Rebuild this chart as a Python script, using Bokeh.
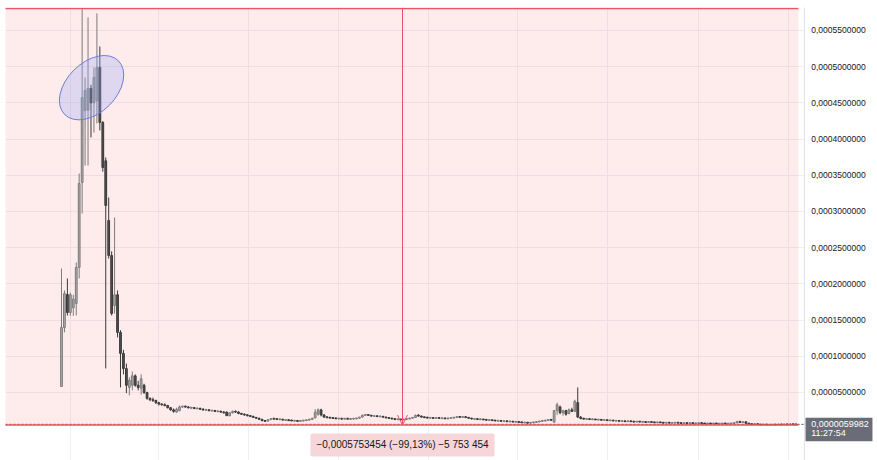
import math
from bokeh.plotting import figure
from bokeh.models import (ColumnDataSource, FixedTicker, Label, Arrow, OpenHead, Grid)
from bokeh.core.properties import value
from bokeh.embed import file_html
from bokeh.resources import INLINE

# ---------------- data (prices in units of 1e-5) ----------------
UNIT = 1e-5

open_e5 = [
    5.83, 13.98, 18.54, 16.05, 16.7, 17.3, 22.27, 34.0, 43.94, 44.0,
    47.0, 45.0, 45.3, 49.9, 42.29, 37.0, 28.76, 23.92, 17.0, 18.5,
    13.3, 10.4, 8.3, 5.7, 6.0, 7.3, 6.0, 5.6, 6.0, 5.0,
    4.2, 4.0, 3.9, 3.6, 3.4, 3.3, 3.2, 2.9, 2.6, 2.3,
    2.5, 3.0, 3.1, 3.0, 2.9, 2.9, 2.8, 2.8, 2.7, 2.6,
    2.6, 2.5, 2.5, 2.4, 2.4, 2.3, 2.3, 1.8, 2.2, 2.4,
    2.3, 2.1, 2.0, 1.9, 1.8, 1.7, 1.55, 1.45, 1.3, 1.1,
    1.05, 1.25, 1.4, 1.35, 1.3, 1.3, 1.2, 1.2, 1.15, 1.1,
    1.1, 1.05, 1.1, 1.15, 1.2, 1.3, 1.5, 2.0, 2.6, 1.9,
    1.6, 1.55, 1.5, 1.45, 1.4, 1.4, 1.35, 1.4, 1.35, 1.35,
    1.4, 1.45, 1.6, 1.85, 1.95, 1.85, 1.75, 1.75, 1.7, 1.7,
    1.6, 1.5, 1.45, 1.35, 1.3, 1.3, 1.25, 1.3, 1.35, 1.45,
    1.55, 1.85, 1.75, 1.6, 1.55, 1.5, 1.5, 1.45, 1.5, 1.45,
    1.45, 1.4, 1.45, 1.5, 1.55, 1.65, 1.6, 1.65, 1.55, 1.45,
    1.35, 1.35, 1.3, 1.3, 1.25, 1.2, 1.2, 1.15, 1.1, 1.1,
    1.05, 1.05, 1.0, 1.0, 0.95, 0.95, 0.9, 0.85, 0.85, 0.8,
    0.85, 0.9, 0.95, 1.05, 1.1, 1.15, 1.25, 0.9, 2.5, 3.0,
    2.2, 2.5, 2.1, 2.6, 2.4, 3.6, 1.6, 1.4, 1.35, 1.35,
    1.3, 1.3, 1.25, 1.25, 1.2, 1.2, 1.15, 1.15, 1.1, 1.1,
    1.05, 1.05, 1.0, 1.05, 1.0, 0.95, 1.0, 0.95, 0.95, 0.9,
    0.95, 0.9, 0.85, 0.9, 0.85, 0.8, 0.85, 0.8, 0.8, 0.85,
    0.8, 0.75, 0.8, 0.75, 0.8, 0.75, 0.75, 0.8, 0.75, 0.7,
    0.75, 0.7, 0.75, 0.7, 0.7, 0.75, 0.7, 0.7, 0.75, 0.8,
    1.0, 0.85, 0.95, 0.75, 0.65, 0.6, 0.65, 0.6, 0.55, 0.6,
    0.55, 0.55, 0.58, 0.56, 0.6, 0.58, 0.61, 0.59, 0.62, 0.6,
]

high_e5 = [
    22.13, 19.1, 20.75, 18.8, 18.5, 22.96, 35.25, 58.05, 48.51, 56.8,
    47.5, 49.89, 57.36, 52.79, 42.5, 37.46, 31.93, 24.5, 29.17, 19.1,
    13.6, 10.9, 9.0, 7.1, 7.9, 7.5, 6.6, 7.5, 6.2, 5.1,
    4.3, 4.3, 4.0, 3.7, 3.5, 3.5, 3.3, 3.0, 2.8, 2.9,
    3.2, 3.2, 3.2, 3.1, 3.0, 3.0, 2.9, 2.9, 2.8, 2.7,
    2.7, 2.6, 2.6, 2.5, 2.5, 2.4, 2.35, 2.25, 2.5, 2.5,
    2.4, 2.2, 2.1, 2.0, 1.9, 1.8, 1.6, 1.5, 1.35, 1.2,
    1.3, 1.45, 1.5, 1.45, 1.4, 1.35, 1.3, 1.3, 1.25, 1.2,
    1.2, 1.15, 1.2, 1.25, 1.35, 1.5, 2.7, 2.8, 2.75, 2.0,
    1.7, 1.6, 1.6, 1.55, 1.5, 1.5, 1.45, 1.5, 1.45, 1.45,
    1.5, 1.65, 1.95, 2.05, 2.0, 1.9, 1.85, 1.8, 1.8, 1.75,
    1.65, 1.6, 1.5, 1.45, 1.4, 1.35, 1.35, 1.4, 1.5, 1.6,
    1.95, 2.0, 1.8, 1.7, 1.65, 1.6, 1.55, 1.55, 1.6, 1.55,
    1.5, 1.5, 1.55, 1.6, 1.7, 1.75, 1.7, 1.7, 1.6, 1.5,
    1.45, 1.4, 1.4, 1.35, 1.35, 1.3, 1.25, 1.2, 1.2, 1.15,
    1.15, 1.1, 1.1, 1.05, 1.05, 1.0, 1.0, 0.95, 0.9, 0.9,
    0.95, 1.0, 1.1, 1.15, 1.2, 1.3, 1.3, 2.6, 3.6, 3.2,
    2.6, 2.6, 2.8, 2.9, 4.0, 5.7, 1.75, 1.5, 1.45, 1.4,
    1.4, 1.35, 1.35, 1.3, 1.3, 1.25, 1.25, 1.2, 1.2, 1.15,
    1.15, 1.1, 1.1, 1.1, 1.05, 1.05, 1.05, 1.0, 1.0, 1.0,
    1.0, 0.95, 0.95, 0.95, 0.9, 0.9, 0.9, 0.85, 0.9, 0.9,
    0.85, 0.85, 0.85, 0.85, 0.85, 0.8, 0.85, 0.85, 0.8, 0.8,
    0.8, 0.8, 0.8, 0.75, 0.8, 0.8, 0.75, 0.8, 0.85, 1.05,
    1.1, 1.0, 1.0, 0.8, 0.7, 0.7, 0.7, 0.65, 0.65, 0.65,
    0.6, 0.6, 0.63, 0.62, 0.64, 0.63, 0.65, 0.64, 0.66, 0.65,
]

low_e5 = [
    5.83, 13.3, 15.64, 15.6, 15.6, 15.64, 20.75, 29.72, 36.35, 36.35,
    40.22, 40.91, 42.15, 41.19, 35.5, 8.32, 23.5, 15.64, 15.91, 12.6,
    5.7, 7.5, 4.9, 4.6, 5.3, 5.8, 5.3, 4.7, 4.8, 4.0,
    3.8, 3.7, 3.4, 3.2, 3.2, 3.1, 2.8, 2.5, 2.2, 2.2,
    2.4, 2.9, 2.9, 2.8, 2.7, 2.7, 2.7, 2.6, 2.5, 2.5,
    2.4, 2.4, 2.3, 2.3, 2.2, 2.1, 1.75, 1.7, 2.1, 2.2,
    2.0, 1.9, 1.8, 1.7, 1.6, 1.5, 1.4, 1.2, 1.05, 0.95,
    1.0, 1.2, 1.3, 1.25, 1.2, 1.15, 1.1, 1.1, 1.05, 1.0,
    1.0, 0.95, 1.0, 1.05, 1.1, 1.2, 1.4, 1.8, 1.7, 1.5,
    1.45, 1.4, 1.35, 1.35, 1.3, 1.3, 1.3, 1.3, 1.25, 1.3,
    1.3, 1.4, 1.55, 1.75, 1.8, 1.7, 1.65, 1.65, 1.6, 1.55,
    1.45, 1.4, 1.3, 1.25, 1.2, 1.2, 1.2, 1.2, 1.3, 1.4,
    1.5, 1.7, 1.55, 1.5, 1.45, 1.4, 1.4, 1.35, 1.4, 1.35,
    1.35, 1.3, 1.35, 1.4, 1.5, 1.55, 1.5, 1.5, 1.4, 1.3,
    1.25, 1.25, 1.2, 1.2, 1.15, 1.1, 1.1, 1.05, 1.0, 1.0,
    0.95, 0.95, 0.9, 0.9, 0.85, 0.85, 0.8, 0.75, 0.75, 0.75,
    0.75, 0.8, 0.9, 0.95, 1.0, 1.1, 1.1, 0.85, 1.9, 2.0,
    1.8, 1.8, 2.0, 2.3, 2.3, 1.5, 1.3, 1.3, 1.25, 1.25,
    1.2, 1.2, 1.15, 1.15, 1.1, 1.1, 1.05, 1.05, 1.0, 1.0,
    0.95, 0.95, 0.95, 0.95, 0.9, 0.9, 0.9, 0.85, 0.85, 0.85,
    0.85, 0.8, 0.8, 0.8, 0.75, 0.75, 0.75, 0.7, 0.75, 0.75,
    0.7, 0.7, 0.7, 0.7, 0.7, 0.65, 0.7, 0.7, 0.65, 0.65,
    0.65, 0.65, 0.65, 0.6, 0.65, 0.65, 0.6, 0.65, 0.7, 0.75,
    0.8, 0.8, 0.7, 0.6, 0.55, 0.55, 0.55, 0.5, 0.5, 0.5,
    0.5, 0.5, 0.52, 0.52, 0.55, 0.54, 0.56, 0.55, 0.57, 0.57,
]

close_e5 = [
    13.98, 18.67, 16.05, 18.5, 17.9, 22.27, 33.87, 45.74, 46.71, 47.0,
    45.0, 48.5, 49.9, 42.29, 36.08, 30.83, 23.92, 15.91, 18.5, 13.3,
    10.4, 8.3, 6.0, 6.7, 7.3, 6.0, 5.7, 6.9, 5.0, 4.2,
    4.0, 3.9, 3.6, 3.4, 3.3, 3.2, 2.9, 2.6, 2.4, 2.7,
    3.0, 3.1, 3.0, 2.9, 2.9, 2.8, 2.8, 2.7, 2.6, 2.6,
    2.5, 2.5, 2.4, 2.4, 2.3, 2.2, 1.8, 2.2, 2.4, 2.3,
    2.1, 2.0, 1.9, 1.8, 1.7, 1.55, 1.45, 1.3, 1.1, 1.05,
    1.25, 1.4, 1.35, 1.3, 1.3, 1.2, 1.2, 1.15, 1.1, 1.1,
    1.05, 1.1, 1.15, 1.2, 1.3, 1.45, 2.3, 2.6, 1.9, 1.6,
    1.55, 1.5, 1.45, 1.4, 1.4, 1.35, 1.4, 1.35, 1.35, 1.4,
    1.45, 1.6, 1.85, 1.95, 1.85, 1.75, 1.75, 1.7, 1.7, 1.6,
    1.5, 1.45, 1.35, 1.3, 1.3, 1.25, 1.3, 1.35, 1.45, 1.55,
    1.85, 1.75, 1.6, 1.55, 1.5, 1.5, 1.45, 1.5, 1.45, 1.45,
    1.4, 1.45, 1.5, 1.55, 1.65, 1.6, 1.65, 1.55, 1.45, 1.35,
    1.35, 1.3, 1.3, 1.25, 1.2, 1.2, 1.15, 1.1, 1.1, 1.05,
    1.05, 1.0, 1.0, 0.95, 0.95, 0.9, 0.85, 0.85, 0.8, 0.85,
    0.9, 0.95, 1.05, 1.1, 1.15, 1.25, 1.2, 2.5, 3.3, 2.2,
    2.5, 2.0, 2.6, 2.4, 3.8, 1.6, 1.4, 1.35, 1.35, 1.3,
    1.3, 1.25, 1.25, 1.2, 1.2, 1.15, 1.15, 1.1, 1.1, 1.05,
    1.05, 1.0, 1.05, 1.0, 0.95, 1.0, 0.95, 0.95, 0.9, 0.95,
    0.9, 0.85, 0.9, 0.85, 0.8, 0.85, 0.8, 0.8, 0.85, 0.8,
    0.75, 0.8, 0.75, 0.8, 0.75, 0.75, 0.8, 0.75, 0.7, 0.75,
    0.7, 0.75, 0.7, 0.7, 0.75, 0.7, 0.7, 0.75, 0.8, 1.0,
    0.85, 0.95, 0.75, 0.65, 0.6, 0.65, 0.6, 0.55, 0.6, 0.55,
    0.55, 0.58, 0.56, 0.6, 0.58, 0.61, 0.59, 0.62, 0.6, 0.59982,
]

# price-scale ticks and their labels
y_ticks = [0.00005, 0.0001, 0.00015, 0.0002, 0.00025, 0.0003,
           0.00035, 0.0004, 0.00045, 0.0005, 0.00055]
y_labels = ["0,0000500000", "0,0001000000", "0,0001500000", "0,0002000000",
            "0,0002500000", "0,0003000000", "0,0003500000", "0,0004000000",
            "0,0004500000", "0,0005000000", "0,0005500000"]

# time grid (month starts, candle index)
x_grid_ticks = [3, 33, 63.5, 94, 124.5, 154.5, 185, 216, 246.5]

# measurement tool
measure_top = 0.0005804
measure_bottom = 0.0000050546
measure_end_index = 249.8
measure_arrow_index = 115.6
measure_text = "\u22120,0005753454 (\u221299,13%) \u22125 753 454"

last_price = 0.0000059982
last_price_text = "0,0000059982"
last_time_text = "11:27:54"

# ellipse annotation (centre in data coords)
ellipse_x = 10.2
ellipse_y = 0.000471

# ---------------- build ----------------
n = len(close_e5)
xs = list(range(n))
o = [v * UNIT for v in open_e5]
h = [v * UNIT for v in high_e5]
l = [v * UNIT for v in low_e5]
c = [v * UNIT for v in close_e5]

MIN_BODY = 0.12 * UNIT
body_top, body_bot, fills, edges, wicks = [], [], [], [], []
for oo, cc in zip(o, c):
    top, bot = max(oo, cc), min(oo, cc)
    if top - bot < MIN_BODY:
        mid = (top + bot) / 2
        top, bot = mid + MIN_BODY / 2, mid - MIN_BODY / 2
    body_top.append(top)
    body_bot.append(bot)
    if cc >= oo:
        fills.append("#adadad"); edges.append("#7c7c7c"); wicks.append("#7c7c7c")
    else:
        fills.append("#4f4f4f"); edges.append("#3a3a3a"); wicks.append("#3a3a3a")

src = ColumnDataSource(dict(x=xs, high=h, low=l, top=body_top, bottom=body_bot,
                            fill=fills, edge=edges, wick=wicks))

# plotting area spans the full canvas width; the price scale is drawn at its right
X0, X1 = -18.98, 276.61
PANE_END = 251.86          # right edge of the chart pane (price-scale border)
Y0, Y1 = -4.392e-5, 0.00058175
p = figure(width=877, height=460, x_range=(X0, X1), y_range=(Y0, Y1),
           x_axis_location=None, y_axis_location=None,
           toolbar_location=None, output_backend="svg",
           min_border_left=5, min_border_top=7, min_border_bottom=0, min_border_right=0)
p.outline_line_color = None
p.background_fill_color = "white"
p.border_fill_color = "white"

GRID = "#eef0f6"
if len(p.ygrid) > 0:
    p.ygrid.ticker = FixedTicker(ticks=y_ticks)
    p.ygrid.grid_line_color = GRID
else:
    p.add_layout(Grid(dimension=1, ticker=FixedTicker(ticks=y_ticks), grid_line_color=GRID))
if len(p.xgrid) > 0:
    p.xgrid.ticker = FixedTicker(ticks=x_grid_ticks)
    p.xgrid.grid_line_color = GRID
else:
    p.add_layout(Grid(dimension=0, ticker=FixedTicker(ticks=x_grid_ticks), grid_line_color=GRID))

RED = "#ef5361"

# measurement rectangle
p.quad(left=X0 - 10, right=measure_end_index, bottom=measure_bottom, top=measure_top,
       fill_color="#f23645", fill_alpha=0.1, line_color=None)

# candles
p.segment(x0="x", y0="low", x1="x", y1="high", line_color="wick", line_width=1, source=src)
p.vbar(x="x", width=0.6, top="top", bottom="bottom", fill_color="fill",
       line_color="edge", line_width=1, source=src)

# ellipse drawing
p.ellipse(x=[ellipse_x], y=[ellipse_y], width=76, height=50,
          width_units="screen", height_units="screen", angle=math.pi / 4,
          fill_color="#96aaf5", fill_alpha=0.3, line_color="#6f7bd9", line_width=1)

# last price line
p.segment(x0=[X0], x1=[PANE_END], y0=[last_price], y1=[last_price],
          line_color="#4a4a4a", line_width=1, line_dash="2 2")

# measurement lines
p.segment(x0=[X0 - 10, X0 - 10], x1=[measure_end_index, measure_end_index],
          y0=[measure_top, measure_bottom], y1=[measure_top, measure_bottom],
          line_color=RED, line_width=1.5)
p.add_layout(Arrow(end=OpenHead(size=10, line_color=RED, line_width=1),
                   x_start=measure_arrow_index, y_start=measure_top,
                   x_end=measure_arrow_index, y_end=measure_bottom,
                   line_color=RED, line_width=1))

# measurement label
p.add_layout(Label(x=measure_arrow_index, y=-2.25e-5, text=measure_text,
                   text_align="center", text_baseline="middle",
                   text_font="Liberation Sans", text_font_size="10px",
                   text_color="#131722", background_fill_color="#f6d6d9",
                   padding=6, border_radius=2))

# ---------------- price scale (right) ----------------
p.quad(left=PANE_END, right=X1 + 5, bottom=Y0 - 1e-4, top=Y1 + 1e-4,
       fill_color="white", line_color=None)
p.segment(x0=[PANE_END], x1=[PANE_END], y0=[Y0 - 1e-4], y1=[Y1 + 1e-4],
          line_color="#e0e3eb", line_width=1)
LABEL_X = PANE_END + 2.3
p.text(x=[LABEL_X] * len(y_ticks), y=y_ticks, text=y_labels,
       text_align="left", text_baseline="middle",
       text_font=value("Liberation Sans"), text_font_size="8.5px", text_color="#131722")

# last price badge
p.quad(left=PANE_END + 0.35, right=274.9, bottom=-1.73e-5, top=1.5e-5,
       fill_color="#6a6d78", line_color=None)
p.text(x=[LABEL_X], y=[6.6e-6], text=[last_price_text],
       text_align="left", text_baseline="middle",
       text_font=value("Liberation Sans"), text_font_size="9px", text_color="white")
p.text(x=[LABEL_X], y=[-6.4e-6], text=[last_time_text],
       text_align="left", text_baseline="middle",
       text_font=value("Liberation Sans"), text_font_size="9px", text_color="white")

open("out.html", "w").write(file_html(p, INLINE))
